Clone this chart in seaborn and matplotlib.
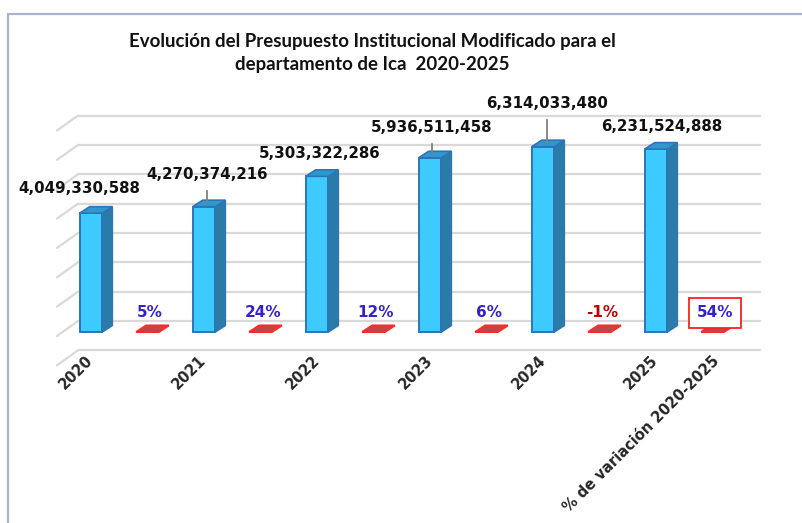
import matplotlib
matplotlib.use("Agg")
import matplotlib.pyplot as plt
import matplotlib.transforms as mtransforms
from matplotlib.patches import Polygon, Rectangle
import numpy as np
import pandas as pd
import seaborn as sns

# data
years = ['2020', '2021', '2022', '2023', '2024', '2025']
budget = [4049330588, 4270374216, 5303322286, 5936511458, 6314033480, 6231524888]
pct_change = [5, 24, 12, 6, -1, 54]
tick_labels = years + ['% de variación 2020-2025']
title = ('Evolución del Presupuesto Institucional Modificado para el\n'
         'departamento de Ica  2020-2025')

# layout (pixels of the 802x523 picture)
W, H = 802, 523
PX_X = 113.0      # px per category
PX_Y = 29.35      # px per 1e9
DX = 10 / PX_X    # 3d depth
DY = 6.5 / PX_Y * 1e9
label_shift = [(-12, 21), (3, 29), (3, 20), (2, 27), (4, 40), (6, 19)]
leader = [False, True, False, True, True, False]

sns.set_style('white')
plt.rcParams['font.family'] = ['DejaVu Sans']

fig = plt.figure(figsize=(W / 100, H / 100), dpi=100)
ax = fig.add_axes([57 / W, (H - 352) / H, (760 - 57) / W, (352 - 100) / H])

df = pd.DataFrame({'year': years, 'budget': budget})
sns.barplot(data=df, x='year', y='budget', width=0.2, color='#3DCBFF',
            saturation=1, edgecolor='#2E75B6', linewidth=1.4, ax=ax,
            zorder=3, err_kws={'linewidth': 0})

ax.set_xlim((57 - 91) / PX_X, (760 - 91) / PX_X)
ax.set_ylim((332 - 352) / PX_Y * 1e9, (332 - 100) / PX_Y * 1e9)

# back wall grid, drawn a bit higher than the front plane
back = ax.transData + mtransforms.ScaledTranslation(0, 11 / 100, fig.dpi_scale_trans)
wall_x0 = (78 - 91) / PX_X
x_lo, x_hi = ax.get_xlim()
for v in np.arange(-1, 8) * 1e9:
    ax.plot([wall_x0, x_hi], [v, v], transform=back, color='#D9D9D9',
            lw=1.6, zorder=1, clip_on=False)
    ax.plot([wall_x0, x_lo], [v, v - 15 / PX_Y * 1e9], transform=back,
            color='#D9D9D9', lw=1.6, zorder=1, clip_on=False)

# 3d faces of the bars
for p in list(ax.patches):
    x0, w, h = p.get_x(), p.get_width(), p.get_height()
    side = [(x0 + w, 0), (x0 + w, h), (x0 + w + DX, h + DY), (x0 + w + DX, DY)]
    top = [(x0, h), (x0 + w, h), (x0 + w + DX, h + DY), (x0 + DX, h + DY)]
    ax.add_patch(Polygon(side, closed=True, fc='#2A7CA8', ec='#2E75B6', lw=1.2, zorder=3))
    ax.add_patch(Polygon(top, closed=True, fc='#2F98CF', ec='#2E75B6', lw=1.2, zorder=3))

# value labels
for i, (p, val) in enumerate(zip(ax.patches[:len(budget)], budget)):
    xc = p.get_x() + p.get_width() / 2 + label_shift[i][0] / PX_X
    arrow = dict(arrowstyle='-', color='#7F7F7F', lw=1.3, shrinkA=4, shrinkB=0) if leader[i] else None
    ax.annotate(f'{val:,}', xy=(xc, val + DY / 2),
                xytext=(0, label_shift[i][1] * 0.72), textcoords='offset points',
                ha='center', va='center', fontsize=10.8, fontweight='bold',
                color='#111111', arrowprops=arrow, zorder=5)

# percentage "bars" (flat) and labels
for i, pc in enumerate(pct_change):
    x0 = i + 0.5 - 0.1
    flat = [(x0, 0), (x0 + 0.2, 0), (x0 + 0.2 + DX, DY), (x0 + DX, DY)]
    ax.add_patch(Polygon(flat, closed=True, fc='#B84A48', ec='#FF2B2B', lw=1.5, zorder=3))
    col = '#C00000' if pc < 0 else '#3322CC'
    box = None
    if i == len(pct_change) - 1:
        box = dict(boxstyle='square,pad=0.5', fc='white', ec='#FF2020', lw=1.3)
    ax.text(i + 0.52, 0.5e9, f'{pc}%', ha='center', va='baseline',
            fontsize=11, fontweight='bold', color=col, bbox=box, zorder=5)

ax.set_xticks(list(range(len(years))) + [len(years) - 0.46])
ax.set_xticklabels(tick_labels, rotation=45, ha='right', va='center',
                   rotation_mode='anchor', fontsize=10.5, fontweight='bold')
ax.tick_params(axis='x', length=0, pad=4.5)
ax.set_yticks([])
ax.set_xlabel('')
ax.set_ylabel('')
sns.despine(ax=ax, left=True, bottom=True)

fig.text(372 / W, 1 - 53 / H, title, ha='center', va='center', fontsize=13.4,
         fontweight='bold', family=['Lato', 'DejaVu Sans'], linespacing=1.4,
         color='#111111')

fig.add_artist(Rectangle((8 / W, -0.1), 1.0, (H - 14) / H + 0.1,
                         transform=fig.transFigure, fill=False, ec='#A9B4CC', lw=1.6))

fig.savefig('out.png', dpi=100)
